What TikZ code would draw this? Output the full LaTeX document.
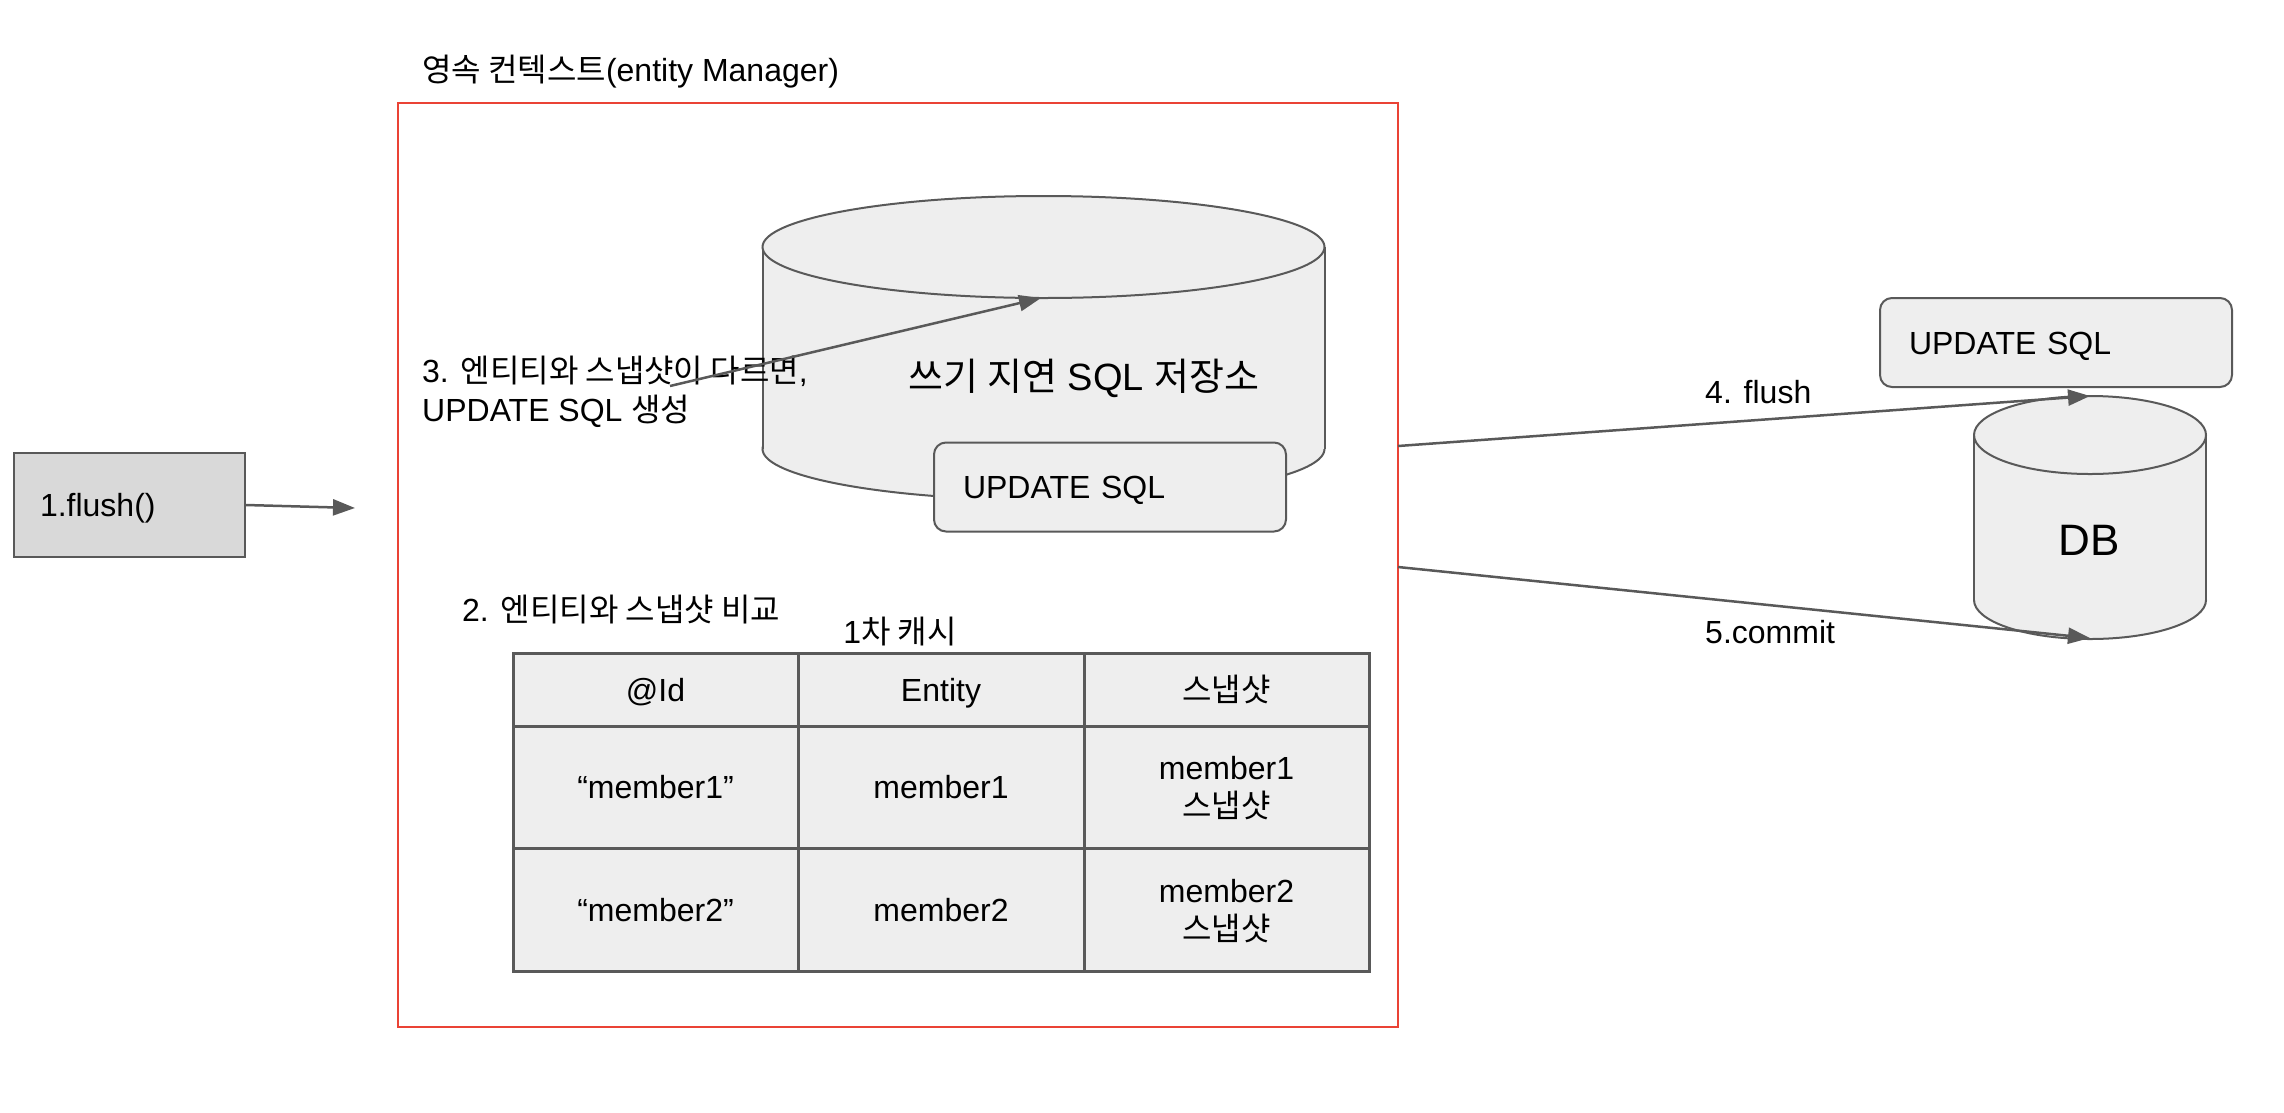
\documentclass[tikz,border=0pt]{standalone}
\usepackage{fontspec}
\setmainfont{Liberation Sans}
\newfontfamily\krfont[Scale=1.0]{Noto Sans CJK KR}
\newcommand{\hk}[1]{{\krfont #1}}
\usetikzlibrary{arrows.meta}
\definecolor{lnc}{HTML}{595959}
\definecolor{fillg}{HTML}{EEEEEE}
\definecolor{flushg}{HTML}{D9D9D9}
\definecolor{redf}{HTML}{EA4335}
\tikzset{
  txt/.style={font=\fontsize{32}{39}\selectfont, inner sep=0pt, text=black},
  bigtxt/.style={font=\fontsize{38}{45}\selectfont, inner sep=0pt, text=black},
  dbtxt/.style={font=\fontsize{44}{52}\selectfont, inner sep=0pt, text=black},
  cylline/.style={draw=lnc, line width=2pt},
  cylbody/.style={draw=lnc, line width=2pt, fill=fillg},
  sqlbox/.style={draw=lnc, line width=2pt, fill=fillg, rounded corners=12pt,
     font=\fontsize{32}{39}\selectfont, align=left, text width=294pt,
     text height=23pt, text depth=0pt,
     inner xsep=29pt, inner ysep=0pt, minimum height=89pt},
  flushbox/.style={draw=lnc, line width=2pt, fill=flushg,
     font=\fontsize{32}{39}\selectfont, align=left, text width=179pt,
     text height=23pt, text depth=0pt,
     inner xsep=26pt, inner ysep=0pt, minimum height=104pt},
  frame/.style={draw=redf, line width=2.5pt, minimum width=1000pt, minimum height=924pt, inner sep=0pt},
  cell/.style={draw=lnc, line width=3pt, fill=fillg, inner sep=0pt, align=center,
     font=\fontsize{32}{38}\selectfont},
  onecell/.style={cell, text height=23pt, text depth=0pt},
  twocell/.style={cell, text height=61pt, text depth=0pt},
  arr/.style={draw=lnc, line width=2.5pt, -{Triangle[length=22pt,width=16pt]}},
}
\newcommand{\drawcyl}[5]{%
  \filldraw[cylbody] (#1,#3) ellipse [x radius=#4pt, y radius=#5pt];
  \fill[fillg] ({#1-#4},#2) rectangle ({#1+#4},#3);
  \draw[cylline] ({#1-#4},#2) -- ({#1-#4},#3) ({#1+#4},#2) -- ({#1+#4},#3);
  \filldraw[cylbody] (#1,#2) ellipse [x radius=#4pt, y radius=#5pt];
}
\begin{document}
\begin{tikzpicture}[x=1pt,y=-1pt]
\useasboundingbox[fill=white] (0,0) rectangle (2284,1112);

% persistence context frame
\node[frame] (frame) at (898,565) {};
\node[txt, anchor=west] (title) at (422,72) {\hk{영속 컨텍스트}(entity Manager)};

% 1.flush()
\node[flushbox] (flush) at (129.5,505) {1.flush()};
\coordinate (flushend) at (355,508);
\draw[arr] (flush.east |- 0,505) -- (flushend);

% write-behind SQL store
\drawcyl{1043.5}{247}{449}{281}{51}
\node[bigtxt] (store) at (1084,378) {\hk{쓰기 지연} SQL \hk{저장소}};
\node[sqlbox] (sql1) at (1110,487) {UPDATE SQL};

% label 3 and arrow
\node[txt, anchor=west, align=left] (lab3) at (422,392) {3. \hk{엔티티와 스냅샷이 다르면},\\UPDATE SQL \hk{생성}};
\coordinate (a3s) at (670,386);
\coordinate (storefront) at (1041,298);
\draw[arr] (a3s) -- (storefront);

% label 2 and cache title
\node[txt, anchor=west] (lab2) at (462,610) {2. \hk{엔티티와 스냅샷 비교}};
\node[txt] (cache) at (900,632) {1\hk{차 캐시}};

% first-level cache table
\node[onecell, minimum width=285pt, minimum height=73pt] (c11) at (655.5,689.5) {@Id};
\node[onecell, minimum width=286pt, minimum height=73pt] (c12) at (941,689.5) {Entity};
\node[onecell, minimum width=285pt, minimum height=73pt] (c13) at (1226.5,689.5) {\hk{스냅샷}};
\node[onecell, minimum width=285pt, minimum height=122pt] (c21) at (655.5,787) {“member1”};
\node[onecell, minimum width=286pt, minimum height=122pt] (c22) at (941,787) {member1};
\node[twocell, minimum width=285pt, minimum height=122pt] (c23) at (1226.5,787) {member1\\\hk{스냅샷}};
\node[onecell, minimum width=285pt, minimum height=123pt] (c31) at (655.5,909.5) {“member2”};
\node[onecell, minimum width=286pt, minimum height=123pt] (c32) at (941,909.5) {member2};
\node[twocell, minimum width=285pt, minimum height=123pt] (c33) at (1226.5,909.5) {member2\\\hk{스냅샷}};

% DB side
\node[sqlbox] (sql2) at (2056,342.5) {UPDATE SQL};
\drawcyl{2090}{435}{600}{116}{39}
\node[dbtxt] (db) at (2089,540) {DB};
\coordinate (dbtop) at (2090,396);
\coordinate (dbbot) at (2090,638);
\coordinate (f4) at (1398,446);
\coordinate (f5) at (1398,567);
\draw[arr] (f4) -- (dbtop);
\draw[arr] (f5) -- (dbbot);
\node[txt, anchor=west] (lab4) at (1705,392) {4. flush};
\node[txt, anchor=west] (lab5) at (1705,632) {5.commit};
\end{tikzpicture}
\end{document}
